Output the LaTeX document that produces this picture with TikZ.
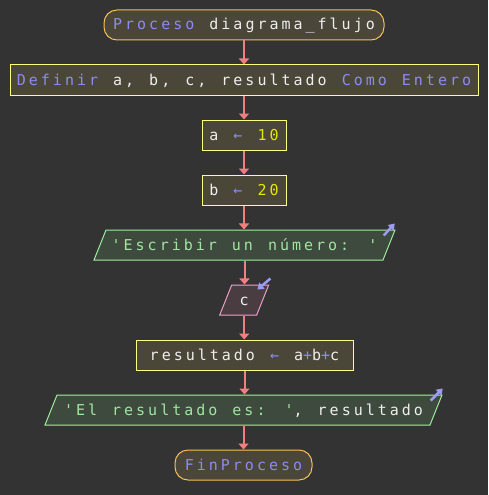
\documentclass[tikz,border=0pt]{standalone}
\usepackage{fontspec}
\usetikzlibrary{arrows.meta,shapes.geometric}
\newfontfamily\psefont{DejaVu Sans Mono}[LetterSpace=20.0, WordSpace=1.25]
\definecolor{bgdark}{HTML}{333333}
\definecolor{termfill}{HTML}{4A4639}
\definecolor{termline}{HTML}{F5BE5A}
\definecolor{procfill}{HTML}{4A4739}
\definecolor{procline}{HTML}{FFFF80}
\definecolor{outfill}{HTML}{3E4A3E}
\definecolor{outline}{HTML}{A0F0A0}
\definecolor{infill}{HTML}{4A3D42}
\definecolor{inline}{HTML}{F0A0C8}
\definecolor{flowline}{HTML}{F08080}
\definecolor{kwcol}{HTML}{8C8CF0}
\definecolor{idcol}{HTML}{EEEEEE}
\definecolor{numcol}{HTML}{E6E600}
\definecolor{strcol}{HTML}{A0E6A0}
\definecolor{iocol}{HTML}{9C9CF4}
\newcommand{\kw}[1]{\textcolor{kwcol}{#1}}
\newcommand{\numtxt}[1]{\textcolor{numcol}{#1}}
\newcommand{\strtxt}[1]{\textcolor{strcol}{#1}}

\begin{document}
\begin{tikzpicture}[x=1pt,y=1pt,
    every node/.style={font=\psefont\fontsize{15}{18}\selectfont, text=idcol, line width=1pt,
      text height=12.5pt, text depth=2.5pt, inner xsep=0pt, inner ysep=7.5pt},
    term/.style={draw=termline, fill=termfill, rounded corners=13pt},
    proc/.style={draw=procline, fill=procfill},
    io/.style={trapezium, trapezium left angle=68.2, trapezium right angle=111.8,
      trapezium stretches body=true},
    outp/.style={io, draw=outline, fill=outfill},
    inp/.style={io, draw=inline, fill=infill},
    flow/.style={draw=flowline, line width=2pt, -{Triangle[width=10pt,length=6pt]}},
    ioarrow/.style={draw=iocol, line width=2.5pt, -{Triangle[width=8pt,length=6pt]}}
  ]
  \useasboundingbox (0,0) rectangle (488,-495);
  \fill[bgdark] (0,0) rectangle (488,-495);

  % bloques del diagrama
  \node[term, minimum width=280pt] (inicio) at (244,-25) {\kw{Proceso} diagrama\_flujo};
  \node[proc, minimum width=468pt] (definir) at (244,-80) {\kw{Definir} a, b, c, resultado \kw{Como Entero}};
  \node[proc, minimum width=84pt] (asigA) at (244,-135) {a \kw{←} \numtxt{10}};
  \node[proc, minimum width=84pt] (asigB) at (244,-190) {b \kw{←} \numtxt{20}};
  \node[outp] (escribir) at (244.5,-245) {\makebox[277pt]{\strtxt{'Escribir un número: '}}};
  \node[inp] (leer) at (244.2,-300) {\makebox[25pt]{c}};
  \node[proc, minimum width=217pt] (suma) at (244.5,-355) {resultado \kw{←} a\kw{+}b\kw{+}c};
  \node[outp] (mostrar) at (243.5,-410) {\makebox[373pt]{\strtxt{'El resultado es: '}, resultado}};
  \node[term, minimum width=137pt] (fin) at (243.5,-465) {\kw{FinProceso}};

  % flechas de flujo
  \foreach \from/\to in {inicio/definir, definir/asigA, asigA/asigB, asigB/escribir,
      escribir/leer, leer/suma, suma/mostrar, mostrar/fin}
    \draw[flow] (\from.south) -- (\from.south |- \to.north);

  % marcas de entrada/salida
  \draw[ioarrow] ([shift={(-12,-6)}]escribir.top right corner) -- ([shift={(-1,6)}]escribir.top right corner);
  \draw[ioarrow] ([shift={(1,6)}]leer.top right corner) -- ([shift={(-12,-5)}]leer.top right corner);
  \draw[ioarrow] ([shift={(-12,-6)}]mostrar.top right corner) -- ([shift={(0,6)}]mostrar.top right corner);
\end{tikzpicture}
\end{document}
